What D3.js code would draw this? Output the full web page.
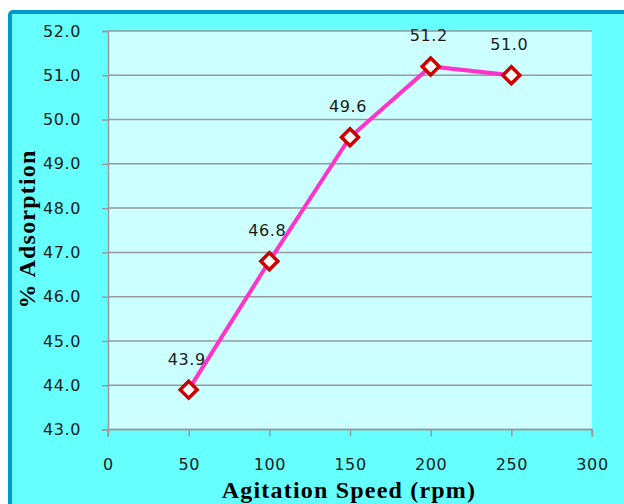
<!DOCTYPE html>
<html>
<head>
<meta charset="utf-8">
<script src="https://cdn.jsdelivr.net/npm/d3@7"></script>
<style>
  body { margin: 0; background: #fff; }
  svg { display: block; }
</style>
</head>
<body>
<div id="chart"></div>
<script>
// chart data
const speeds = [50, 100, 150, 200, 250];
const adsorption = [43.9, 46.8, 49.6, 51.2, 51.0];
const xTicks = [0, 50, 100, 150, 200, 250, 300];
const yTicks = [43, 44, 45, 46, 47, 48, 49, 50, 51, 52];

const W = 624, H = 504;
const margin = {top: 31, right: 32, bottom: 75, left: 108};
const tickFont = '"DejaVu Sans", Verdana, sans-serif';
const titleFont = '"Liberation Serif", "Times New Roman", serif';

const svg = d3.select('#chart').append('svg')
    .attr('width', W)
    .attr('height', H);

// outer frame
svg.append('rect')
    .attr('x', 10).attr('y', 12)
    .attr('width', W + 20).attr('height', H + 20)
    .attr('rx', 3)
    .attr('fill', '#66ffff')
    .attr('stroke', '#0099cc')
    .attr('stroke-width', 4);

const x = d3.scaleLinear().domain([0, 300]).range([margin.left, W - margin.right]);
const y = d3.scaleLinear().domain([43, 52]).range([H - margin.bottom + 0.5, margin.top]);

// plot area
svg.append('rect')
    .attr('x', x(0)).attr('y', y(52))
    .attr('width', x(300) - x(0))
    .attr('height', y(43) - y(52))
    .attr('fill', '#ccffff');

// gridlines
svg.append('g').selectAll('line')
    .data(yTicks)
    .join('line')
    .attr('x1', x(0)).attr('x2', x(300))
    .attr('y1', d => y(d)).attr('y2', d => y(d))
    .attr('stroke', '#999')
    .attr('stroke-width', 1.5);

// axes
const yAxis = svg.append('g')
    .attr('transform', `translate(${x(0)},0)`)
    .call(d3.axisLeft(y).tickValues(yTicks).tickFormat(d3.format('.1f')).tickSize(6).tickPadding(21));

const xAxis = svg.append('g')
    .attr('transform', `translate(0,${y(43)})`)
    .call(d3.axisBottom(x).tickValues(xTicks).tickSize(7).tickPadding(22));

[xAxis, yAxis].forEach(a => {
    a.select('.domain').attr('stroke', '#999').attr('stroke-width', 1.5);
    a.selectAll('.tick line').attr('stroke', '#999').attr('stroke-width', 1.5);
    a.selectAll('text')
        .attr('fill', '#1a1a1a')
        .style('font-family', tickFont)
        .style('font-size', '16px')
        .style('letter-spacing', '0.6px');
});
xAxis.select('.domain').attr('d', `M${x(0)},7V0H${x(300)}V7`);

// line
const line = d3.line()
    .x((d, i) => x(speeds[i]))
    .y(d => y(d));

svg.append('path')
    .datum(adsorption)
    .attr('fill', 'none')
    .attr('stroke', '#ff33cc')
    .attr('stroke-width', 4)
    .attr('d', line);

// diamond markers
svg.append('g').selectAll('rect')
    .data(adsorption)
    .join('rect')
    .attr('x', -6).attr('y', -6)
    .attr('width', 12).attr('height', 12)
    .attr('transform', (d, i) => `translate(${x(speeds[i])},${y(d)}) rotate(45)`)
    .attr('fill', '#fff')
    .attr('stroke', '#cc0000')
    .attr('stroke-width', 3.5);

// value labels
svg.append('g').selectAll('text')
    .data(adsorption)
    .join('text')
    .attr('x', (d, i) => x(speeds[i]) - 2)
    .attr('y', d => y(d) - 25)
    .attr('text-anchor', 'middle')
    .attr('fill', '#1a1a1a')
    .style('font-family', tickFont)
    .style('font-size', '16px')
    .style('letter-spacing', '0.6px')
    .text(d => d3.format('.1f')(d));

// axis titles
svg.append('text')
    .attr('x', 349).attr('y', 498)
    .attr('text-anchor', 'middle')
    .style('font-family', titleFont)
    .style('font-weight', 'bold')
    .style('font-size', '24px')
    .style('letter-spacing', '1.2px')
    .attr('fill', '#000')
    .text('Agitation Speed (rpm)');

svg.append('text')
    .attr('transform', 'translate(35,229) rotate(-90)')
    .attr('text-anchor', 'middle')
    .style('font-family', titleFont)
    .style('font-weight', 'bold')
    .style('font-size', '24px')
    .style('letter-spacing', '1.2px')
    .attr('fill', '#000')
    .text('% Adsorption');
</script>
</body>
</html>
